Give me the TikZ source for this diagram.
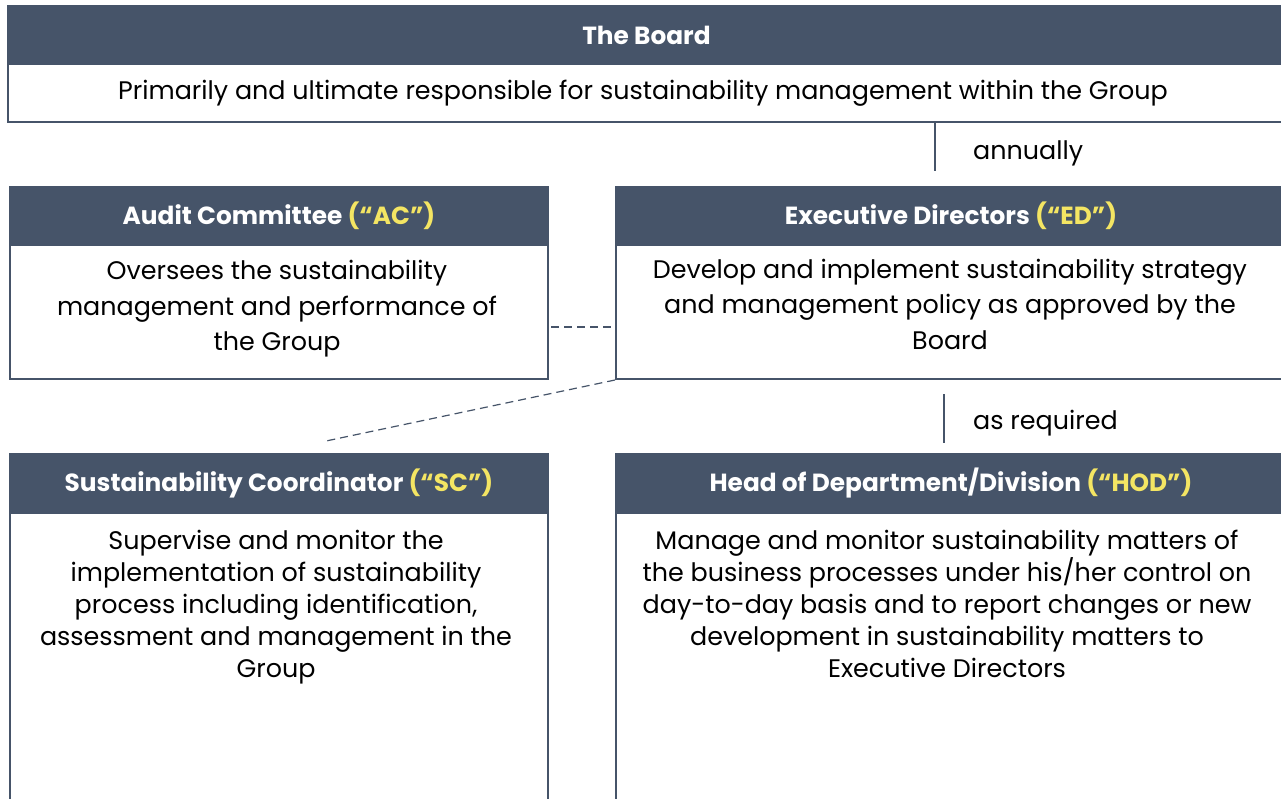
\documentclass[tikz,border=0pt]{standalone}
\usepackage{fontspec}
\setmainfont{Poppins}
\usetikzlibrary{calc}
\definecolor{hdrblue}{HTML}{465469}
\definecolor{tagyellow}{HTML}{F4E563}
\begin{document}
\begin{tikzpicture}[x=1pt,y=-1pt,
  hdr/.style={fill=hdrblue, draw=hdrblue, line width=2pt, text=white, anchor=north west,
    inner sep=0pt, minimum height=58pt, font=\fontsize{24.8}{28}\selectfont\bfseries},
  bodybox/.style={draw=hdrblue, line width=2pt, fill=white, anchor=north west, inner sep=0pt},
  bodytext/.style={align=center, font=\fontsize{25.4}{35.5}\selectfont, text=black, inner sep=0pt},
  tighttext/.style={bodytext, anchor=north, font=\fontsize{25.4}{32}\selectfont},
  link/.style={draw=hdrblue, line width=1.5pt},
  dashlink/.style={draw=hdrblue, line width=1.2pt, dash pattern=on 8pt off 5pt},
  note/.style={font=\fontsize{25.4}{28}\selectfont, anchor=west, inner sep=0pt}]
\useasboundingbox (0,0) rectangle (1281,798);
\clip (0,0) rectangle (1281,798);

% The Board
\node[bodybox, minimum width=1277pt, minimum height=58pt] (boardbody) at (7,63) {};
\node[bodytext] (boardtext) at (643,93) {Primarily and ultimate responsible for sustainability management within the Group};
\node[hdr, minimum width=1277pt] (board) at (7,5) {The Board};

% Audit Committee
\node[bodybox, minimum width=538pt, minimum height=134pt] (acbody) at (9,244) {};
\node[bodytext] (actext) at (277,309) {Oversees the sustainability\\management and performance of\\the Group};
\node[hdr, minimum width=538pt] (ac) at (9,186) {Audit Committee \textcolor{tagyellow}{(“AC”)}};

% Executive Directors
\node[bodybox, minimum width=670pt, minimum height=134pt] (edbody) at (615,244) {};
\node[bodytext] (edtext) at (950,304) {Develop and implement sustainability strategy\\and management policy as approved by the\\Board};
\node[hdr, minimum width=670pt] (ed) at (615,186) {Executive Directors \textcolor{tagyellow}{(“ED”)}};

% Sustainability Coordinator
\node[bodybox, minimum width=538pt, minimum height=300pt] (scbody) at (9,512) {};
\node[tighttext] (sctext) at (276,530) {Supervise and monitor the\\implementation of sustainability\\process including identification,\\assessment and management in the\\Group};
\node[hdr, minimum width=538pt] (sc) at (9,453) {Sustainability Coordinator \textcolor{tagyellow}{(“SC”)}};

% Head of Department/Division
\node[bodybox, minimum width=670pt, minimum height=300pt] (hodbody) at (615,512) {};
\node[tighttext] (hodtext) at (947,530) {Manage and monitor sustainability matters of\\the business processes under his/her control on\\day-to-day basis and to report changes or new\\development in sustainability matters to\\Executive Directors};
\node[hdr, minimum width=670pt] (hod) at (615,453) {Head of Department/Division \textcolor{tagyellow}{(“HOD”)}};

% Reporting lines
\coordinate (annualtop) at (935,122);
\coordinate (annualend) at (935,171);
\draw[link] (annualtop) -- (annualend);
\node[note] (annual) at (973,153) {annually};

\coordinate (reqtop) at (944,394);
\coordinate (reqend) at (944,443);
\draw[link] (reqtop) -- (reqend);
\node[note] (req) at (973,423) {as required};

% Dashed links
\coordinate (acdash) at (551,327);
\draw[dashlink] (acdash) -- (acdash -| edbody.west);
\coordinate (scdash) at (326,441);
\draw[dashlink] (edbody.south west) -- (scdash);
\end{tikzpicture}
\end{document}
